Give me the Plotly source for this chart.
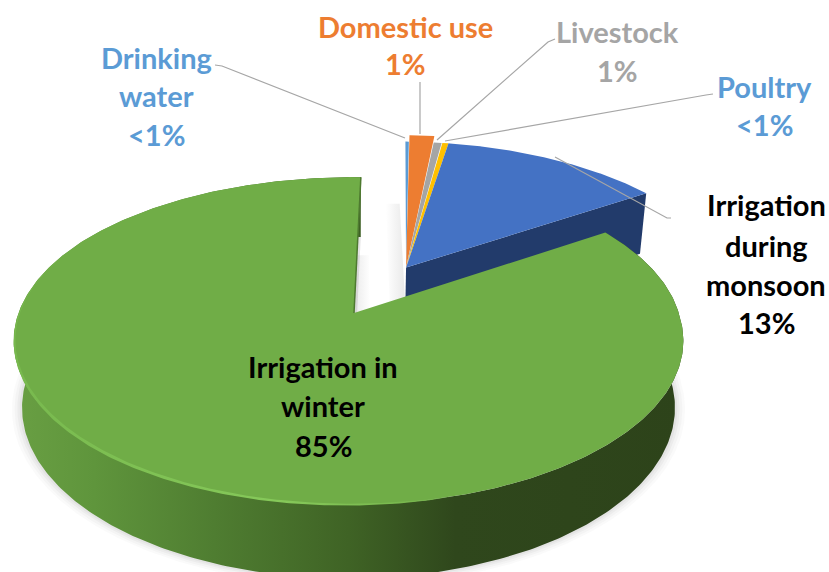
import numpy as np
import plotly.graph_objects as go

# --- data (clockwise from 12 o'clock) ---
categories = ["Drinking water", "Domestic use", "Livestock", "Poultry", "Irrigation during monsoon", "Irrigation in winter"]
shares = [0.2, 1.4, 0.5, 0.4, 12.8, 84.8]
label_values = ["<1%", "1%", "1%", "<1%", "13%", "85%"]
top_colors = ["#5B9BD5", "#ED7D31", "#A5A5A5", "#FFC000", "#4472C4", "#70AD47"]
text_colors = ["#5B9BD5", "#ED7D31", "#A5A5A5", "#5B9BD5", "#000000", "#000000"]
label_lines = [["Drinking", "water"], ["Domestic use"], ["Livestock"], ["Poultry"],
               ["Irrigation", "during", "monsoon"], ["Irrigation in", "winter"]]
label_cx = [156, 405, 617, 764, 766, 323]
label_ys = [[57, 95, 134], [26, 63], [31, 70], [86, 124], [204, 245, 284, 322], [366, 405, 445]]
leaders = [[(215, 65), (222, 66), (405, 138)],
           [(420, 82), (420, 134)],
           [(555, 39), (548, 42), (437, 140)],
           [(713, 94), (706, 95), (445, 141)],
           [(555, 157), (667, 218), (671, 218)]]

# --- 3D view of the pie ---
X0, Y0, A, B, C = 354, 313, 330, 159, 68
PERSP, DEPTH_PERSP = 0.17, 0.025
START = 1.4
EXPLODE = 0.343
RIM_DRIFT = 5.5
radius = [1.02, 1.08, 1.02, 1.02, 1.02, 1]


def project(x, y, d=0.0):
    x, y = np.asarray(x, float), np.asarray(y, float)
    den = 1 + PERSP * y + DEPTH_PERSP * d
    return X0 + A * x / den, Y0 + (-B * y + C * d) / den


scale = 360 / sum(shares)
edges = START + np.cumsum([0] + shares) * scale
win_mid = np.radians((edges[5] + edges[6]) / 2)
ox, oy = -EXPLODE * np.sin(win_mid), -EXPLODE * np.cos(win_mid)


def arc(a0, a1, r=1.0, cx=0.0, cy=0.0, n=160):
    t = np.radians(np.linspace(a0, a1, n))
    return cx + r * np.sin(t), cy + r * np.cos(t)


def drift(a0, a1, n):
    """Horizontal drift of the big slice's rim, none at its two cut ends."""
    t = np.linspace(a0, a1, n)
    w = np.clip(np.minimum((t - edges[5]) / 35, (edges[6] - t) / 60), 0, 1)
    return -RIM_DRIFT * w


fig = go.Figure()


def poly(xs, ys, color=None, grad=None):
    kw = dict(fillgradient=grad) if grad else dict(fillcolor=color)
    fig.add_trace(go.Scatter(x=np.append(xs, xs[0]), y=np.append(ys, ys[0]), mode="lines", fill="toself",
                             line=dict(width=0), hoverinfo="skip", showlegend=False, **kw))


a0, a1 = edges[5], edges[6]
N = 400
ax, ay = arc(a0, a1, n=N)
dr = drift(a0, a1, N)

# soft shadow of the base of the big slice
for grow, alpha in [(1.030, .03), (1.022, .04), (1.014, .05), (1.007, .06)]:
    sx, sy = project(np.r_[0, ax * grow], np.r_[0, ay * grow], 1.0)
    poly(sx + np.r_[0, dr], sy, f"rgba(90,90,90,{alpha})")

# soft shadows in the gap, beside the small slices and beside the cut of the big slice
sx, sy = project([ox - .05, ox, ox, ox - .05], [oy + .78, oy + .78, oy, oy], 0.6)
poly(sx, sy, grad=dict(type="horizontal", colorscale=[[0, "rgba(150,150,150,0)"], [1, "rgba(150,150,150,.22)"]]))
sx, sy = project([0, .05, .05, 0], [.55, .55, 0, 0], 0.35)
poly(sx, sy, grad=dict(type="horizontal", colorscale=[[0, "rgba(150,150,150,.2)"], [1, "rgba(150,150,150,0)"]]))

# cut face of the monsoon slice
rx, ry = arc(edges[5], edges[5], r=radius[4], cx=ox, cy=oy, n=1)
tx, ty = project([ox, rx[0]], [oy, ry[0]], 0)
bx, by = project([ox, rx[0]], [oy, ry[0]], 1)
poly(np.r_[tx, bx[::-1]], np.r_[ty, by[::-1]], "#223B6B")

# small slices, top faces
for i in range(5):
    sax, say = arc(edges[i], edges[i + 1], r=radius[i], cx=ox, cy=oy)
    px, py = project(np.r_[ox, sax], np.r_[oy, say], 0)
    poly(px, py, top_colors[i])

# winter slice: outer wall, top face, rim highlight, thin edge on the cut
tx, ty = project(ax, ay, 0)
bx, by = project(ax, ay, 1)
poly(np.r_[tx + dr, (bx + dr)[::-1]], np.r_[ty, by[::-1]],
     grad=dict(type="horizontal", colorscale=[[0, "#699F43"], [.12, "#5F953C"], [.3, "#4F7D31"], [.5, "#3F6325"],
                                              [.66, "#2F471C"], [1, "#2D431A"]]))

px, py = project(np.r_[0, ax], np.r_[0, ay], 0)
poly(px + np.r_[0, dr], py, top_colors[5])

hl = np.linspace(165, 292, 200)
hx0, hy0 = arc(165, 292, n=200)
hdr = -RIM_DRIFT * np.clip(np.minimum((hl - a0) / 35, (a1 - hl) / 60), 0, 1)
taper = np.sin(np.radians((hl - 165) / 127 * 180)) ** 0.5
hx, hy = project(hx0, hy0, 0.022 * taper)
ix, iy = project(hx0 * (1 - .006 * taper), hy0 * (1 - .006 * taper), 0)
poly(np.r_[hx + hdr, (ix + hdr)[::-1]], np.r_[hy, iy[::-1]],
     grad=dict(type="horizontal", colorscale=[[0, "#78B94E"], [.6, "#86C95A"], [1, "#74B24A"]]))

ex, ey = project([0, ax[-1]], [0, ay[-1]], 0)
fig.add_trace(go.Scatter(x=ex, y=ey, mode="lines", line=dict(color="#4E7A30", width=1.5),
                         hoverinfo="skip", showlegend=False))

# leader lines
for pts in leaders:
    fig.add_trace(go.Scatter(x=[p[0] for p in pts], y=[p[1] for p in pts], mode="lines",
                             line=dict(color="#A6A6A6", width=1.2), hoverinfo="skip", showlegend=False))

# labels
annotations = []
for lines, val, cx, ys, col in zip(label_lines, label_values, label_cx, label_ys, text_colors):
    for txt, y in zip(lines + [val], ys):
        annotations.append(dict(x=cx, y=y, text=f"<b>{txt}</b>", showarrow=False, xanchor="center", yanchor="middle",
                                font=dict(family="Lato, Carlito, sans-serif", size=29, color=col)))

fig.update_layout(width=829, height=572, margin=dict(l=0, r=0, t=0, b=0), showlegend=False,
                  paper_bgcolor="white", plot_bgcolor="white", annotations=annotations,
                  xaxis=dict(range=[0, 829], visible=False, fixedrange=True),
                  yaxis=dict(range=[572, 0], visible=False, fixedrange=True))
fig.write_html("out.html", config=dict(displayModeBar=False),
               post_script="document.body.style.margin='0';document.body.style.overflow='hidden';")
